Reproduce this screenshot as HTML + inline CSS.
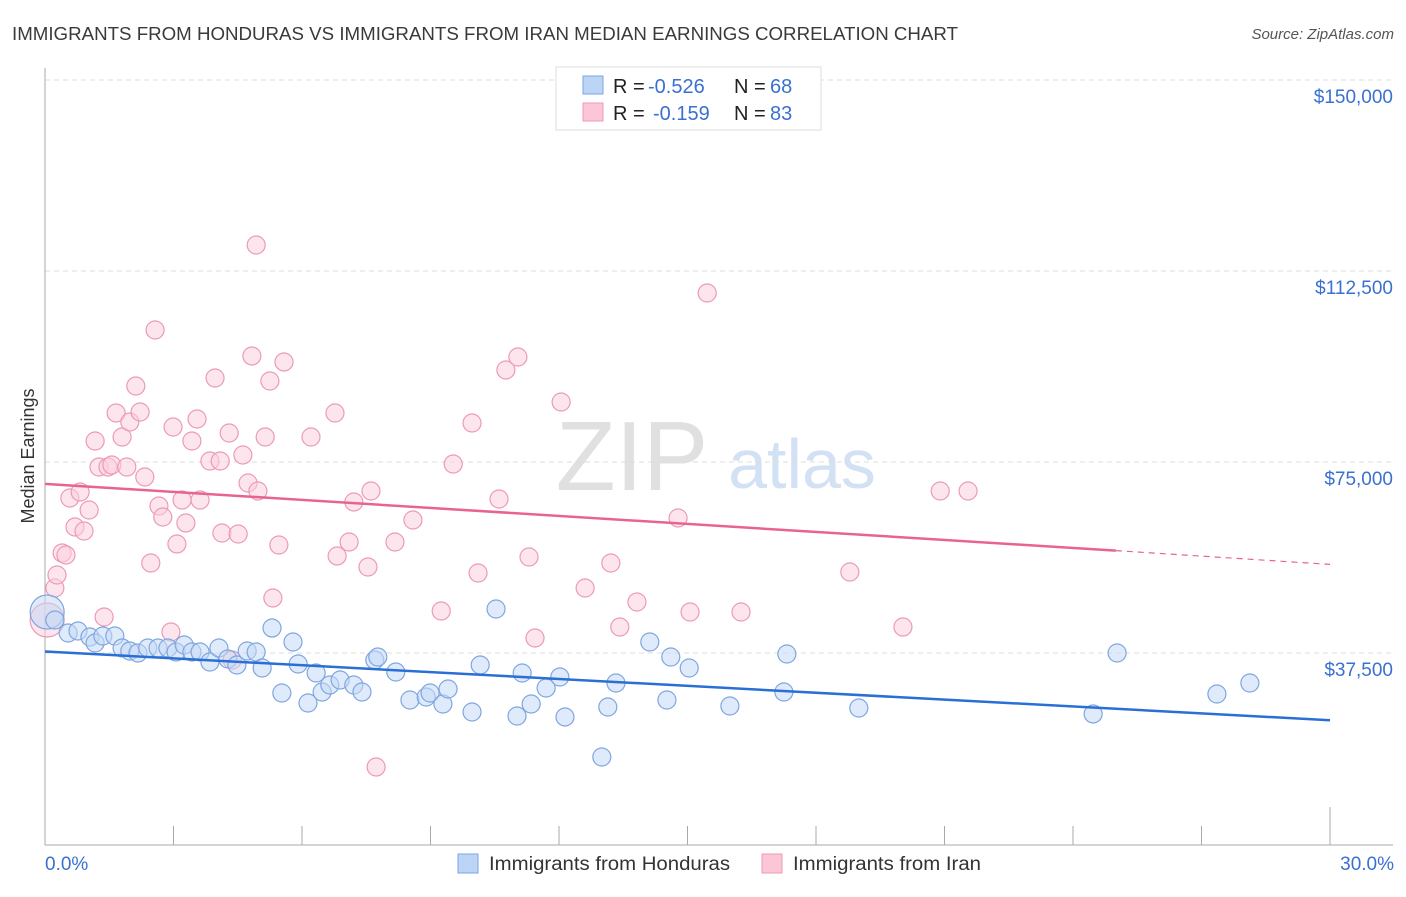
<!DOCTYPE html>
<html><head><meta charset="utf-8"><style>
body{margin:0;background:#fff;font-family:"Liberation Sans",sans-serif}
svg text{font-family:"Liberation Sans",sans-serif}
</style></head><body>
<svg id="chart" width="1406" height="892" viewBox="0 0 1406 892">
<text x="12" y="40" font-size="18.5" fill="#3a3a3a" textLength="946" lengthAdjust="spacingAndGlyphs">IMMIGRANTS FROM HONDURAS VS IMMIGRANTS FROM IRAN MEDIAN EARNINGS CORRELATION CHART</text>
<text x="1394" y="39" font-size="15" fill="#555" font-style="italic" text-anchor="end">Source: ZipAtlas.com</text>
<g>
<text x="632" y="490" font-size="98" fill="#e0e0e0" font-family="Liberation Serif" text-anchor="middle">ZIP</text>
<text x="802" y="488" font-size="70" fill="#d3e1f4" text-anchor="middle">atlas</text>
</g>
<g id="grid"></g>
<g id="axes"></g>
<g id="pts"></g>
<g id="trends"></g>
<text x="34" y="456" font-size="18" fill="#333" text-anchor="middle" transform="rotate(-90 34 456)">Median Earnings</text>
<text x="45" y="870" font-size="19" fill="#3a70d0">0.0%</text>
<text x="1394" y="870" font-size="19" fill="#3a70d0" text-anchor="end">30.0%</text>
<g>
<rect x="556" y="67" width="265" height="63" fill="#fff" stroke="#ddd"/>
<rect x="583" y="76" width="20" height="18" fill="#bcd4f5" stroke="#7ea6e0"/>
<rect x="583" y="103" width="20" height="18" fill="#fbc6d6" stroke="#ec9ab4"/>
<text x="613" y="93" font-size="20" fill="#222">R = <tspan fill="#3a70d0" x="648">-0.526</tspan><tspan x="734">N = </tspan><tspan fill="#3a70d0" x="770">68</tspan></text>
<text x="613" y="120" font-size="20" fill="#222">R = <tspan fill="#3a70d0" x="653">-0.159</tspan><tspan x="734">N = </tspan><tspan fill="#3a70d0" x="770">83</tspan></text>
</g>
<g>
<rect x="458" y="854" width="20" height="19" fill="#bcd4f5" stroke="#7ea6e0"/>
<text x="489" y="870" font-size="19" fill="#333" textLength="241" lengthAdjust="spacingAndGlyphs">Immigrants from Honduras</text>
<rect x="762" y="854" width="20" height="19" fill="#fbc6d6" stroke="#ec9ab4"/>
<text x="793" y="870" font-size="19" fill="#333" textLength="188" lengthAdjust="spacingAndGlyphs">Immigrants from Iran</text>
</g>
</svg>
<script>
const yTicks=[37500,75000,112500,150000];
const yTickLabels=["$37,500","$75,000","$112,500","$150,000"];
const xTicks=[0,3,6,9,12,15,18,21,24,27,30];
const bluePx=[[47,612],[55,620],[68,633],[78,631],[90,637],[95,643],[103,636],[115,636],[122,648],[130,651],[138,653],[148,648],[158,648],[168,648],[176,652],[184,645],[192,652],[200,652],[210,662],[219,648],[228,659],[237,665],[247,651],[256,652],[262,668],[272,628],[282,693],[293,642],[298,664],[308,703],[316,673],[322,692],[330,685],[340,680],[354,685],[362,692],[375,660],[378,657],[396,672],[410,700],[426,697],[430,693],[443,704],[448,689],[472,712],[480,665],[496,609],[517,716],[522,673],[531,704],[546,688],[560,677],[565,717],[602,757],[608,707],[616,683],[650,642],[667,700],[671,657],[689,668],[730,706],[784,692],[787,654],[859,708],[1093,714],[1117,653],[1217,694],[1250,683]];
const pinkPx=[[47,620],[55,588],[57,575],[62,553],[66,555],[70,498],[75,527],[80,492],[84,531],[89,510],[95,441],[99,467],[104,617],[108,467],[112,465],[116,413],[122,437],[127,467],[130,422],[136,386],[140,412],[145,477],[151,563],[155,330],[159,506],[163,517],[171,632],[173,427],[177,544],[182,500],[186,523],[192,441],[197,419],[200,500],[210,461],[215,378],[220,461],[222,533],[229,433],[232,660],[238,534],[243,455],[248,483],[252,356],[256,245],[258,491],[265,437],[270,381],[273,598],[279,545],[284,362],[311,437],[335,413],[337,556],[349,542],[354,502],[368,567],[371,491],[376,767],[395,542],[413,520],[441,611],[453,464],[478,573],[472,423],[506,370],[499,499],[518,357],[529,557],[535,638],[561,402],[585,588],[611,563],[620,627],[637,602],[678,518],[690,612],[707,293],[741,612],[850,572],[903,627],[940,491],[968,491]];
const honduras=bluePx.map(p=>[+((p[0]-45)/42.833).toFixed(2),Math.round((844-p[1])*37500/191)]);
const iran=pinkPx.map(p=>[+((p[0]-45)/42.833).toFixed(2),Math.round((844-p[1])*37500/191)]);
const blueTrend=[[0,37800],[30,24300]];
const pinkTrend=[[0,70700],[25,57600],[30,54900]];
const X=v=>45+v*42.833, Y=v=>844-v*191/37500;
const NS="http://www.w3.org/2000/svg";
function mk(t,a,p){const e=document.createElementNS(NS,t);for(const k in a)e.setAttribute(k,a[k]);p.appendChild(e);return e;}
const grid=document.getElementById('grid'),axes=document.getElementById('axes'),pts=document.getElementById('pts'),tr=document.getElementById('trends');
yTicks.forEach((v,i)=>{
 const l=mk('line',{x1:45,x2:1393,y1:Y(v),y2:Y(v),stroke:'#ddd','stroke-dasharray':'5,4'},grid);
 
 
 const t=mk('text',{x:1393,y:Y(v)+23,'font-size':19,fill:'#3a70d0','text-anchor':'end'},grid);
 t.textContent=yTickLabels[i];
 
 
});
const ya=mk('line',{x1:45,x2:45,y1:68,y2:845,stroke:'#aaa'},axes);


const xa=mk('line',{x1:45,x2:1393,y1:845,y2:845,stroke:'#aaa'},axes);


xTicks.forEach((v,i)=>{
 const tk=mk('line',{x1:X(v),x2:X(v),y1:(i==xTicks.length-1?807:826),y2:845,stroke:'#aaa'},axes);
 
 
});
function dots(data,fill,stroke,name){data.forEach((d,i)=>{
 const c=mk('circle',{cx:X(d[0]),cy:Y(d[1]),r:(i==0?17:9),fill:fill,'fill-opacity':0.55,stroke:stroke,'stroke-width':1.2},pts);
 
 
});}
dots(iran,'#fbd0de','#ec9ab4','iran-point');
dots(honduras,'#c4d9f5','#7ea6e0','honduras-point');
const bl=mk('line',{x1:X(blueTrend[0][0]),y1:Y(blueTrend[0][1]),x2:X(blueTrend[1][0]),y2:Y(blueTrend[1][1]),stroke:'#2a6fd6','stroke-width':2.5},tr);


const pl=mk('line',{x1:X(pinkTrend[0][0]),y1:Y(pinkTrend[0][1]),x2:X(pinkTrend[1][0]),y2:Y(pinkTrend[1][1]),stroke:'#e8648f','stroke-width':2.5},tr);


const pd=mk('line',{x1:X(pinkTrend[1][0]),y1:Y(pinkTrend[1][1]),x2:X(pinkTrend[2][0]),y2:Y(pinkTrend[2][1]),stroke:'#e8648f','stroke-width':1.2,'stroke-dasharray':'6,5'},tr);


</script>
</body></html>
